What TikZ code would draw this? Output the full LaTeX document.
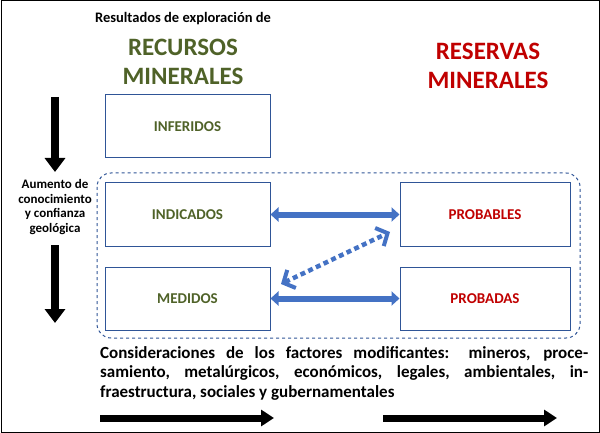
\documentclass[tikz,border=0pt]{standalone}
\usepackage{fontspec}
\setmainfont{Carlito}
\usetikzlibrary{arrows.meta}
\definecolor{grn}{HTML}{4F6228}
\definecolor{rd}{HTML}{C00000}
\definecolor{bl}{HTML}{2F5597}
\definecolor{lb}{HTML}{4472C4}
\tikzset{
 box/.style={draw=bl,line width=1pt,minimum width=165pt,minimum height=63pt,font=\bfseries\fontsize{15}{18}\selectfont},
 blk/.style={line width=8pt,-{Triangle[length=14pt,width=20pt]}},
 dbl/.style={draw=lb,line width=6pt,{Triangle[length=8pt,width=14pt]}-{Triangle[length=8pt,width=14pt]}},
}
\begin{document}
\begin{tikzpicture}[x=1pt,y=-1pt]
\useasboundingbox (0,0) rectangle (600,433);
\draw[line width=1pt] (1,1) rectangle (599,432);
\node (t) at (183,19) {\bfseries\fontsize{14.5}{17}\selectfont Resultados de exploración de};
\node[text=grn,align=center,font=\bfseries\fontsize{25}{29}\selectfont] (rec) at (183,62) {RECURSOS\\MINERALES};
\node[text=rd,align=center,font=\bfseries\fontsize{25}{29}\selectfont] (res) at (488,66) {RESERVAS\\MINERALES};
\draw[bl,dashed,line width=1pt,rounded corners=14pt] (97,173) rectangle (580,338);
\node[box,text=grn] (inf) at (187.5,126.5) {INFERIDOS};
\node[box,text=grn] (ind) at (187.5,214.5) {INDICADOS};
\node[box,text=grn] (med) at (187.5,298.5) {MEDIDOS};
\node[box,text=rd,minimum width=170pt] (prb) at (485,214.5) {PROBABLES};
\node[box,text=rd,minimum width=170pt] (prd) at (485,298.5) {PROBADAS};
\node[align=center,font=\bfseries\fontsize{13}{14.5}\selectfont] (aum) at (55,207) {Aumento de\\conocimiento\\y confianza\\geológica};
\coordinate (a1) at (55,97); \coordinate (a2) at (55,172);
\coordinate (a3) at (55,245); \coordinate (a4) at (55,323);
\draw[blk] (a1) -- (a2);
\draw[blk] (a3) -- (a4);
\draw[dbl] (ind) -- (prb);
\draw[dbl] (med) -- (prd);
\coordinate (d1) at (281,284); \coordinate (d2) at (390,232);
\draw[lb,line width=4.5pt,dash pattern=on 5pt off 3.5pt,{Straight Barb[length=9pt,width=20pt,line width=4pt]}-{Straight Barb[length=9pt,width=20pt,line width=4pt]}] (d1) -- (d2);
\node[anchor=north west,text width=488pt,align=justify,font=\bfseries\fontsize{17}{19.5}\selectfont,inner sep=0pt] (cons) at (100,346) {Consideraciones de los factores modificantes: mineros, procesamiento, metalúrgicos, económicos, legales, ambientales, infraestructura, sociales y gubernamentales};
\coordinate (b1) at (100,418); \coordinate (b2) at (274,418);
\coordinate (b3) at (383,418); \coordinate (b4) at (557,418);
\draw[line width=7pt,-{Triangle[length=13pt,width=16pt]}] (b1) -- (b2);
\draw[line width=7pt,-{Triangle[length=13pt,width=16pt]}] (b3) -- (b4);
\end{tikzpicture}
\end{document}
